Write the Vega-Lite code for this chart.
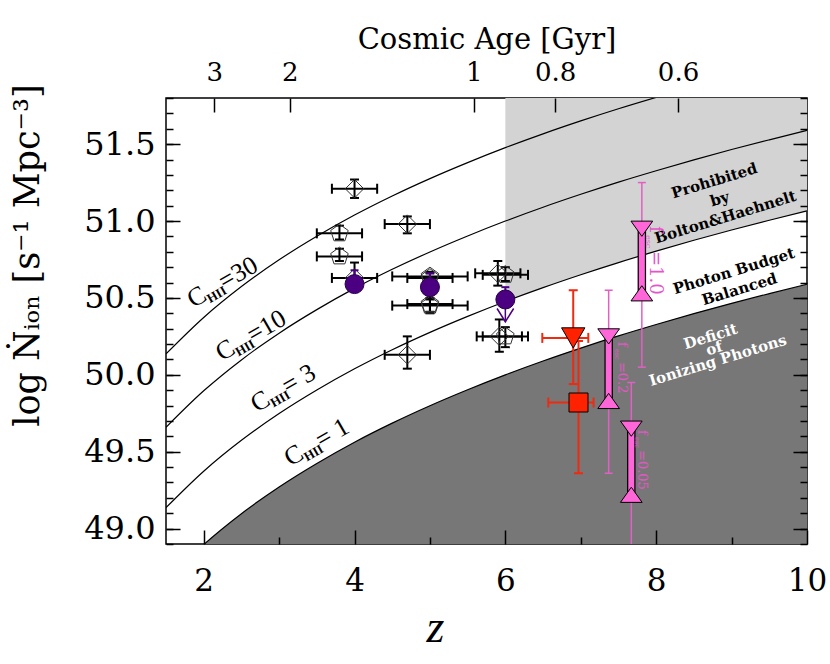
{
"$schema": "https://vega.github.io/schema/vega-lite/v6.json",
"width": 641,
"height": 446,
"autosize": "none",
"padding": {"left": 166, "top": 98, "right": 23, "bottom": 120},
"background": "#ffffff",
"config": {"view": {"stroke": "#000000", "strokeWidth": 1.5}},
"datasets": {
"curves": [
{"C":1,"z":1.5,"n":48.659},{"C":1,"z":2,"n":48.896},{"C":1,"z":2.5,"n":49.097},{"C":1,"z":3,"n":49.271},{"C":1,"z":3.5,"n":49.424},{"C":1,"z":4,"n":49.562},{"C":1,"z":4.5,"n":49.686},{"C":1,"z":5,"n":49.799},{"C":1,"z":5.5,"n":49.903},{"C":1,"z":6,"n":50.0},{"C":1,"z":6.5,"n":50.09},{"C":1,"z":7,"n":50.174},{"C":1,"z":7.5,"n":50.253},{"C":1,"z":8,"n":50.327},{"C":1,"z":8.5,"n":50.398},{"C":1,"z":9,"n":50.465},{"C":1,"z":9.5,"n":50.528},{"C":1,"z":10,"n":50.589},
{"C":3,"z":1.5,"n":49.136},{"C":3,"z":2,"n":49.373},{"C":3,"z":2.5,"n":49.574},{"C":3,"z":3,"n":49.748},{"C":3,"z":3.5,"n":49.901},{"C":3,"z":4,"n":50.039},{"C":3,"z":4.5,"n":50.163},{"C":3,"z":5,"n":50.276},{"C":3,"z":5.5,"n":50.38},{"C":3,"z":6,"n":50.477},{"C":3,"z":6.5,"n":50.567},{"C":3,"z":7,"n":50.651},{"C":3,"z":7.5,"n":50.73},{"C":3,"z":8,"n":50.804},{"C":3,"z":8.5,"n":50.875},{"C":3,"z":9,"n":50.942},{"C":3,"z":9.5,"n":51.005},{"C":3,"z":10,"n":51.066},
{"C":10,"z":1.5,"n":49.659},{"C":10,"z":2,"n":49.896},{"C":10,"z":2.5,"n":50.097},{"C":10,"z":3,"n":50.271},{"C":10,"z":3.5,"n":50.424},{"C":10,"z":4,"n":50.562},{"C":10,"z":4.5,"n":50.686},{"C":10,"z":5,"n":50.799},{"C":10,"z":5.5,"n":50.903},{"C":10,"z":6,"n":51.0},{"C":10,"z":6.5,"n":51.09},{"C":10,"z":7,"n":51.174},{"C":10,"z":7.5,"n":51.253},{"C":10,"z":8,"n":51.327},{"C":10,"z":8.5,"n":51.398},{"C":10,"z":9,"n":51.465},{"C":10,"z":9.5,"n":51.528},{"C":10,"z":10,"n":51.589},
{"C":30,"z":1.5,"n":50.136},{"C":30,"z":2,"n":50.373},{"C":30,"z":2.5,"n":50.574},{"C":30,"z":3,"n":50.748},{"C":30,"z":3.5,"n":50.901},{"C":30,"z":4,"n":51.039},{"C":30,"z":4.5,"n":51.163},{"C":30,"z":5,"n":51.276},{"C":30,"z":5.5,"n":51.38},{"C":30,"z":6,"n":51.477},{"C":30,"z":6.5,"n":51.567},{"C":30,"z":7,"n":51.651},{"C":30,"z":7.5,"n":51.73},{"C":30,"z":8,"n":51.804},{"C":30,"z":8.5,"n":51.875},{"C":30,"z":9,"n":51.942},{"C":30,"z":9.5,"n":52.005},{"C":30,"z":10,"n":52.066}
],
"blk": [
{"z":4.0,"n":51.21,"zlo":3.7,"zhi":4.3,"nlo":51.15,"nhi":51.27,"sym":"diamond"},
{"z":4.7,"n":50.98,"zlo":4.4,"zhi":5.0,"nlo":50.92,"nhi":51.03,"sym":"diamond"},
{"z":3.8,"n":50.92,"zlo":3.5,"zhi":4.1,"nlo":50.88,"nhi":50.97,"sym":"pentagon"},
{"z":3.8,"n":50.77,"zlo":3.5,"zhi":4.1,"nlo":50.74,"nhi":50.82,"sym":"pentagon"},
{"z":4.0,"n":50.63,"zlo":3.7,"zhi":4.3,"nlo":50.58,"nhi":50.73,"sym":"diamond"},
{"z":5.0,"n":50.64,"zlo":4.5,"zhi":5.5,"nlo":50.6,"nhi":50.67,"sym":"pentagon"},
{"z":5.0,"n":50.63,"zlo":4.7,"zhi":5.3,"nlo":50.59,"nhi":50.66,"sym":"pentagon"},
{"z":5.0,"n":50.45,"zlo":4.5,"zhi":5.5,"nlo":50.4,"nhi":50.5,"sym":"pentagon"},
{"z":5.0,"n":50.46,"zlo":4.7,"zhi":5.3,"nlo":50.41,"nhi":50.49,"sym":"pentagon"},
{"z":4.7,"n":50.13,"zlo":4.4,"zhi":5.0,"nlo":50.04,"nhi":50.25,"sym":"diamond"},
{"z":5.9,"n":50.66,"zlo":5.6,"zhi":6.2,"nlo":50.58,"nhi":50.74,"sym":"diamond"},
{"z":6.0,"n":50.65,"zlo":5.7,"zhi":6.3,"nlo":50.61,"nhi":50.7,"sym":"pentagon"},
{"z":5.92,"n":50.25,"zlo":5.62,"zhi":6.22,"nlo":50.15,"nhi":50.36,"sym":"diamond"},
{"z":6.0,"n":50.25,"zlo":5.7,"zhi":6.3,"nlo":50.18,"nhi":50.31,"sym":"pentagon"}
],
"pur": [
{"z":4.0,"n":50.59,"nhi":50.68},
{"z":5.0,"n":50.57,"nhi":50.66},
{"z":6.0,"n":50.49,"nhi":50.57,"lim":50.345}
],
"red": [
{"z":6.9,"n":50.24,"zlo":6.49,"zhi":7.1,"nlo":49.94,"nhi":50.55,"sym":"triangle-down"},
{"z":6.97,"n":49.82,"zlo":6.57,"zhi":7.17,"nlo":49.36,"nhi":50.22,"sym":"square"}
],
"pink": [
{"z":7.81,"top":50.95,"bot":50.53,"nlo":50.05,"nhi":51.25},
{"z":7.37,"top":50.25,"bot":49.83,"nlo":49.36,"nhi":50.55},
{"z":7.67,"top":49.65,"bot":49.22,"nlo":48.5,"nhi":49.95}
],
"clab": [
{"z":1.863,"n":50.433,"t":"=30"},
{"z":2.239,"n":50.086,"t":"=10"},
{"z":2.704,"n":49.754,"t":"= 3"},
{"z":3.147,"n":49.403,"t":"= 1"}
],
"rtxtB": [
{"z":8.77,"n":51.262,"t":"Prohibited\nby\nBolton&Haehnelt"},
{"z":9.03,"n":50.675,"t":"Photon Budget\nBalanced"}
],
"rtxtW": [
{"z":8.72,"n":50.25,"t":"Deficit\nof\nIonizing Photons"}
],
"fBig": [
{"z":7.92,"n":50.968,"f":"=1.0"}
],
"fSmall": [
{"z":7.49,"n":50.214,"f":"=0.2"},
{"z":7.755,"n":49.641,"f":"=0.05"}
]
},
"resolve": {"axis": {"x": "independent", "y": "independent"}},
"layer": [
{
"data": {"name": "curves"},
"transform": [{"filter": "datum.C == 3 && datum.z >= 6"}],
"mark": {"type": "area", "fill": "#d3d3d3", "clip": true, "interpolate": "monotone"},
"encoding": {
"x": {"field": "z", "type": "quantitative", "scale": {"domain": [1.5, 10], "nice": false, "zero": false},
"axis": {"orient": "bottom", "values": [2, 4, 6, 8, 10], "format": "d", "tickSize": -14, "tickWidth": 1.5, "tickColor": "#000", "domain": false, "grid": false, "labelFont": "DejaVu Serif", "labelFontSize": 31, "labelColor": "#000", "labelPadding": 36, "labelFlush": false, "labelOverlap": false, "labelBound": false, "zindex": 2,
"title": "z", "titleFont": "Liberation Serif", "titleFontStyle": "italic", "titleFontWeight": "normal", "titleFontSize": 46, "titleColor": "#000", "titleX": 269, "titleY": 97, "titleBaseline": "alphabetic", "titleAlign": "center"}},
"y": {"field": "n", "type": "quantitative", "scale": {"domain": [48.9, 51.8], "nice": false, "zero": false},
"axis": {"orient": "left", "values": [49, 49.5, 50, 50.5, 51, 51.5], "format": ".1f", "tickSize": -14, "tickWidth": 1.5, "tickColor": "#000", "domain": false, "grid": false, "labelFont": "DejaVu Serif", "labelFontSize": 32, "labelColor": "#000", "labelPadding": 25, "labelFlush": false, "labelOverlap": false, "labelBound": false, "zindex": 2,
"title": "log Ṅᵢₒₙ [s⁻¹ Mpc⁻³]", "titleFont": "DejaVu Serif", "titleFontWeight": "normal", "titleFontSize": 35, "titleColor": "#000", "titleX": -128, "titleY": 157, "titleAngle": 270, "titleBaseline": "alphabetic", "titleAlign": "center"}},
"y2": {"datum": 52}
}
},
{
"data": {"name": "curves"},
"transform": [{"filter": "datum.C == 1"}],
"mark": {"type": "area", "fill": "#777777", "clip": true, "interpolate": "monotone"},
"encoding": {
"x": {"field": "z", "type": "quantitative", "scale": {"domain": [1.5, 10], "nice": false, "zero": false},
"axis": {"orient": "bottom", "values": [3, 5, 7, 9], "tickSize": -7, "tickWidth": 1.5, "tickColor": "#000", "domain": false, "grid": false, "labels": false, "title": null, "zindex": 2}},
"y": {"field": "n", "type": "quantitative", "scale": {"domain": [48.9, 51.8], "nice": false, "zero": false},
"axis": {"orient": "left", "values": [48.9, 49.0, 49.1, 49.2, 49.3, 49.4, 49.5, 49.6, 49.7, 49.8, 49.9, 50.0, 50.1, 50.2, 50.3, 50.4, 50.5, 50.6, 50.7, 50.8, 50.9, 51.0, 51.1, 51.2, 51.3, 51.4, 51.5, 51.6, 51.7, 51.8], "tickSize": -7, "tickWidth": 1.5, "tickColor": "#000", "domain": false, "grid": false, "labels": false, "title": null, "zindex": 2}},
"y2": {"datum": 48}
}
},
{
"data": {"name": "curves"},
"mark": {"type": "line", "stroke": "#000", "strokeWidth": 1.2, "clip": true, "interpolate": "monotone"},
"encoding": {
"x": {"field": "z", "type": "quantitative", "scale": {"domain": [1.5, 10], "nice": false, "zero": false},
"axis": {"orient": "top", "values": [2.14, 3.14, 5.58, 6.66, 8.29], "labelExpr": "datum.value < 2.5 ? '3' : datum.value < 4 ? '2' : datum.value < 6 ? '1' : datum.value < 7 ? '0.8' : '0.6'", "tickSize": -14, "tickWidth": 1.5, "tickColor": "#000", "domain": false, "grid": false, "labelFont": "DejaVu Serif", "labelFontSize": 26, "labelColor": "#000", "labelPadding": 27, "labelFlush": false, "labelOverlap": false, "labelBound": false, "zindex": 2,
"title": "Cosmic Age [Gyr]", "titleFont": "DejaVu Serif", "titleFontWeight": "normal", "titleFontSize": 29, "titleColor": "#000", "titleY": -50, "titleBaseline": "alphabetic"}},
"y": {"field": "n", "type": "quantitative", "scale": {"domain": [48.9, 51.8], "nice": false, "zero": false},
"axis": {"orient": "right", "values": [49, 49.5, 50, 50.5, 51, 51.5], "tickSize": -14, "tickWidth": 1.5, "tickColor": "#000", "domain": false, "grid": false, "labels": false, "title": null, "zindex": 2}},
"detail": {"field": "C", "type": "nominal"}
}
},
{
"data": {"name": "blk"},
"mark": {"type": "rule", "stroke": "#000", "strokeWidth": 2, "clip": true},
"encoding": {
"x": {"field": "zlo", "type": "quantitative", "scale": {"domain": [1.5, 10], "nice": false, "zero": false}, "axis": null},
"x2": {"field": "zhi"},
"y": {"field": "n", "type": "quantitative", "scale": {"domain": [48.9, 51.8], "nice": false, "zero": false},
"axis": {"orient": "right", "values": [48.9, 49.0, 49.1, 49.2, 49.3, 49.4, 49.5, 49.6, 49.7, 49.8, 49.9, 50.0, 50.1, 50.2, 50.3, 50.4, 50.5, 50.6, 50.7, 50.8, 50.9, 51.0, 51.1, 51.2, 51.3, 51.4, 51.5, 51.6, 51.7, 51.8], "tickSize": -7, "tickWidth": 1.5, "tickColor": "#000", "domain": false, "grid": false, "labels": false, "title": null, "zindex": 2}}
}
},
{
"data": {"name": "blk"},
"mark": {"type": "rule", "stroke": "#000", "strokeWidth": 2, "clip": true},
"encoding": {
"x": {"field": "z", "type": "quantitative", "axis": null},
"y": {"field": "nlo", "type": "quantitative", "axis": null},
"y2": {"field": "nhi"}
}
},
{
"data": {"name": "blk"},
"transform": [{"fold": ["zlo", "zhi"], "as": ["k", "zc"]}],
"mark": {"type": "point", "shape": "M0,-1L0,1", "size": 100, "filled": false, "stroke": "#000", "strokeWidth": 2, "opacity": 1, "clip": true},
"encoding": {
"x": {"field": "zc", "type": "quantitative", "axis": null},
"y": {"field": "n", "type": "quantitative", "axis": null}
}
},
{
"data": {"name": "blk"},
"transform": [{"fold": ["nlo", "nhi"], "as": ["k", "nc"]}],
"mark": {"type": "point", "shape": "M-1,0L1,0", "size": 81, "filled": false, "stroke": "#000", "strokeWidth": 2, "opacity": 1, "clip": true},
"encoding": {
"x": {"field": "z", "type": "quantitative", "axis": null},
"y": {"field": "nc", "type": "quantitative", "axis": null}
}
},
{
"data": {"name": "blk"},
"mark": {"type": "point", "filled": false, "stroke": "#333", "strokeWidth": 1, "size": 340, "opacity": 1, "clip": true},
"encoding": {
"x": {"field": "z", "type": "quantitative", "axis": null},
"y": {"field": "n", "type": "quantitative", "axis": null},
"shape": {"field": "sym", "type": "nominal", "scale": {"domain": ["diamond", "pentagon"], "range": ["diamond", "M0,-1L0.951,-0.309L0.588,0.809L-0.588,0.809L-0.951,-0.309Z"]}, "legend": null}
}
},
{
"data": {"name": "pur"},
"mark": {"type": "rule", "stroke": "#4b0082", "strokeWidth": 2, "clip": true},
"encoding": {
"x": {"field": "z", "type": "quantitative", "axis": null},
"y": {"field": "n", "type": "quantitative", "axis": null},
"y2": {"field": "nhi"}
}
},
{
"data": {"name": "pur"},
"mark": {"type": "point", "shape": "M-1,0L1,0", "size": 64, "filled": false, "stroke": "#4b0082", "strokeWidth": 2, "opacity": 1, "clip": true},
"encoding": {
"x": {"field": "z", "type": "quantitative", "axis": null},
"y": {"field": "nhi", "type": "quantitative", "axis": null}
}
},
{
"data": {"name": "pur"},
"transform": [{"filter": "isValid(datum.lim)"}],
"mark": {"type": "rule", "stroke": "#4b0082", "strokeWidth": 1.5, "clip": true},
"encoding": {
"x": {"field": "z", "type": "quantitative", "axis": null},
"y": {"field": "n", "type": "quantitative", "axis": null},
"y2": {"field": "lim"}
}
},
{
"data": {"name": "pur"},
"transform": [{"filter": "isValid(datum.lim)"}],
"mark": {"type": "point", "shape": "M-1,-1.6L0,0L1,-1.6", "size": 276, "filled": false, "stroke": "#4b0082", "strokeWidth": 1.5, "opacity": 1, "clip": true},
"encoding": {
"x": {"field": "z", "type": "quantitative", "axis": null},
"y": {"field": "lim", "type": "quantitative", "axis": null}
}
},
{
"data": {"name": "pur"},
"mark": {"type": "point", "shape": "circle", "size": 361, "filled": true, "fill": "#4b0082", "stroke": "#2a004a", "strokeWidth": 1, "opacity": 1, "clip": true},
"encoding": {
"x": {"field": "z", "type": "quantitative", "axis": null},
"y": {"field": "n", "type": "quantitative", "axis": null}
}
},
{
"data": {"name": "red"},
"mark": {"type": "rule", "stroke": "#ee2a10", "strokeWidth": 2, "clip": true},
"encoding": {
"x": {"field": "zlo", "type": "quantitative", "axis": null},
"x2": {"field": "zhi"},
"y": {"field": "n", "type": "quantitative", "axis": null}
}
},
{
"data": {"name": "red"},
"mark": {"type": "rule", "stroke": "#ee2a10", "strokeWidth": 2, "clip": true},
"encoding": {
"x": {"field": "z", "type": "quantitative", "axis": null},
"y": {"field": "nlo", "type": "quantitative", "axis": null},
"y2": {"field": "nhi"}
}
},
{
"data": {"name": "red"},
"transform": [{"fold": ["zlo", "zhi"], "as": ["k", "zc"]}],
"mark": {"type": "point", "shape": "M0,-1L0,1", "size": 100, "filled": false, "stroke": "#ee2a10", "strokeWidth": 2, "opacity": 1, "clip": true},
"encoding": {
"x": {"field": "zc", "type": "quantitative", "axis": null},
"y": {"field": "n", "type": "quantitative", "axis": null}
}
},
{
"data": {"name": "red"},
"transform": [{"fold": ["nlo", "nhi"], "as": ["k", "nc"]}],
"mark": {"type": "point", "shape": "M-1,0L1,0", "size": 81, "filled": false, "stroke": "#ee2a10", "strokeWidth": 2, "opacity": 1, "clip": true},
"encoding": {
"x": {"field": "z", "type": "quantitative", "axis": null},
"y": {"field": "nc", "type": "quantitative", "axis": null}
}
},
{
"data": {"name": "red"},
"transform": [{"filter": "datum.sym == 'triangle-down'"}],
"mark": {"type": "point", "shape": "triangle-down", "size": 545, "filled": true, "fill": "#ff2200", "stroke": "#000", "strokeWidth": 1, "opacity": 1, "clip": true},
"encoding": {
"x": {"field": "z", "type": "quantitative", "axis": null},
"y": {"field": "n", "type": "quantitative", "axis": null}
}
},
{
"data": {"name": "red"},
"transform": [{"filter": "datum.sym == 'square'"}],
"mark": {"type": "point", "shape": "square", "size": 361, "filled": true, "fill": "#ff2200", "stroke": "#000", "strokeWidth": 1, "opacity": 1, "clip": true},
"encoding": {
"x": {"field": "z", "type": "quantitative", "axis": null},
"y": {"field": "n", "type": "quantitative", "axis": null}
}
},
{
"data": {"name": "pink"},
"mark": {"type": "rule", "stroke": "#e060c4", "strokeWidth": 1.5, "clip": true},
"encoding": {
"x": {"field": "z", "type": "quantitative", "axis": null},
"y": {"field": "nlo", "type": "quantitative", "axis": null},
"y2": {"field": "nhi"}
}
},
{
"data": {"name": "pink"},
"transform": [{"fold": ["nlo", "nhi"], "as": ["k", "nc"]}],
"mark": {"type": "point", "shape": "M-1,0L1,0", "size": 64, "filled": false, "stroke": "#e060c4", "strokeWidth": 1.5, "opacity": 1, "clip": true},
"encoding": {
"x": {"field": "z", "type": "quantitative", "axis": null},
"y": {"field": "nc", "type": "quantitative", "axis": null}
}
},
{
"data": {"name": "pink"},
"mark": {"type": "rule", "stroke": "#000", "strokeWidth": 8.5, "clip": true},
"encoding": {
"x": {"field": "z", "type": "quantitative", "axis": null},
"y": {"field": "bot", "type": "quantitative", "axis": null},
"y2": {"field": "top"}
}
},
{
"data": {"name": "pink"},
"mark": {"type": "rule", "stroke": "#ff66d8", "strokeWidth": 6, "clip": true},
"encoding": {
"x": {"field": "z", "type": "quantitative", "axis": null},
"y": {"field": "bot", "type": "quantitative", "axis": null},
"y2": {"field": "top"}
}
},
{
"data": {"name": "pink"},
"mark": {"type": "point", "shape": "M-1,-0.7L1,-0.7L0,0.7Z", "size": 471, "filled": true, "fill": "#ff66d8", "stroke": "#000", "strokeWidth": 1, "opacity": 1, "clip": true},
"encoding": {
"x": {"field": "z", "type": "quantitative", "axis": null},
"y": {"field": "top", "type": "quantitative", "axis": null}
}
},
{
"data": {"name": "pink"},
"mark": {"type": "point", "shape": "M-1,0.7L1,0.7L0,-0.7Z", "size": 471, "filled": true, "fill": "#ff66d8", "stroke": "#000", "strokeWidth": 1, "opacity": 1, "clip": true},
"encoding": {
"x": {"field": "z", "type": "quantitative", "axis": null},
"y": {"field": "bot", "type": "quantitative", "axis": null}
}
},
{
"data": {"name": "clab"},
"mark": {"type": "text", "text": "C", "font": "Liberation Serif", "fontSize": 26, "angle": 330, "align": "left", "baseline": "alphabetic", "color": "#000"},
"encoding": {
"x": {"field": "z", "type": "quantitative", "axis": null},
"y": {"field": "n", "type": "quantitative", "axis": null}
}
},
{
"data": {"name": "clab"},
"mark": {"type": "text", "text": "HII", "font": "Liberation Serif", "fontWeight": "bold", "fontSize": 13, "angle": 330, "align": "left", "baseline": "alphabetic", "dx": 17, "dy": 4, "color": "#000"},
"encoding": {
"x": {"field": "z", "type": "quantitative", "axis": null},
"y": {"field": "n", "type": "quantitative", "axis": null}
}
},
{
"data": {"name": "clab"},
"mark": {"type": "text", "font": "Liberation Serif", "fontSize": 26, "angle": 330, "align": "left", "baseline": "alphabetic", "dx": 36, "color": "#000"},
"encoding": {
"x": {"field": "z", "type": "quantitative", "axis": null},
"y": {"field": "n", "type": "quantitative", "axis": null},
"text": {"field": "t"}
}
},
{
"data": {"name": "rtxtB"},
"mark": {"type": "text", "font": "DejaVu Serif", "fontWeight": "bold", "fontSize": 15, "angle": 343, "align": "center", "baseline": "middle", "lineBreak": "\n", "lineHeight": 19, "color": "#000"},
"encoding": {
"x": {"field": "z", "type": "quantitative", "axis": null},
"y": {"field": "n", "type": "quantitative", "axis": null},
"text": {"field": "t"}
}
},
{
"data": {"name": "rtxtW"},
"mark": {"type": "text", "font": "DejaVu Serif", "fontWeight": "bold", "fontSize": 15, "angle": 343, "align": "center", "baseline": "middle", "lineBreak": "\n", "lineHeight": 12.5, "color": "#ffffff"},
"encoding": {
"x": {"field": "z", "type": "quantitative", "axis": null},
"y": {"field": "n", "type": "quantitative", "axis": null},
"text": {"field": "t"}
}
},
{
"data": {"name": "fBig"},
"mark": {"type": "text", "text": "f", "font": "DejaVu Serif", "fontSize": 18, "angle": 90, "align": "left", "baseline": "alphabetic", "color": "#e456c8"},
"encoding": {
"x": {"field": "z", "type": "quantitative", "axis": null},
"y": {"field": "n", "type": "quantitative", "axis": null}
}
},
{
"data": {"name": "fBig"},
"mark": {"type": "text", "text": "esc", "font": "DejaVu Serif", "fontSize": 8, "angle": 90, "align": "left", "baseline": "alphabetic", "dx": 9, "dy": 4, "color": "#e456c8"},
"encoding": {
"x": {"field": "z", "type": "quantitative", "axis": null},
"y": {"field": "n", "type": "quantitative", "axis": null}
}
},
{
"data": {"name": "fBig"},
"mark": {"type": "text", "font": "DejaVu Serif", "fontSize": 18, "angle": 90, "align": "left", "baseline": "alphabetic", "dx": 25, "color": "#e456c8"},
"encoding": {
"x": {"field": "z", "type": "quantitative", "axis": null},
"y": {"field": "n", "type": "quantitative", "axis": null},
"text": {"field": "f"}
}
},
{
"data": {"name": "fSmall"},
"mark": {"type": "text", "text": "f", "font": "DejaVu Serif", "fontSize": 13, "angle": 90, "align": "left", "baseline": "alphabetic", "color": "#e456c8"},
"encoding": {
"x": {"field": "z", "type": "quantitative", "axis": null},
"y": {"field": "n", "type": "quantitative", "axis": null}
}
},
{
"data": {"name": "fSmall"},
"mark": {"type": "text", "text": "esc", "font": "DejaVu Serif", "fontSize": 6.5, "angle": 90, "align": "left", "baseline": "alphabetic", "dx": 7, "dy": 3, "color": "#e456c8"},
"encoding": {
"x": {"field": "z", "type": "quantitative", "axis": null},
"y": {"field": "n", "type": "quantitative", "axis": null}
}
},
{
"data": {"name": "fSmall"},
"mark": {"type": "text", "font": "DejaVu Serif", "fontSize": 13, "angle": 90, "align": "left", "baseline": "alphabetic", "dx": 20, "color": "#e456c8"},
"encoding": {
"x": {"field": "z", "type": "quantitative", "axis": null},
"y": {"field": "n", "type": "quantitative", "axis": null},
"text": {"field": "f"}
}
}
]
}
